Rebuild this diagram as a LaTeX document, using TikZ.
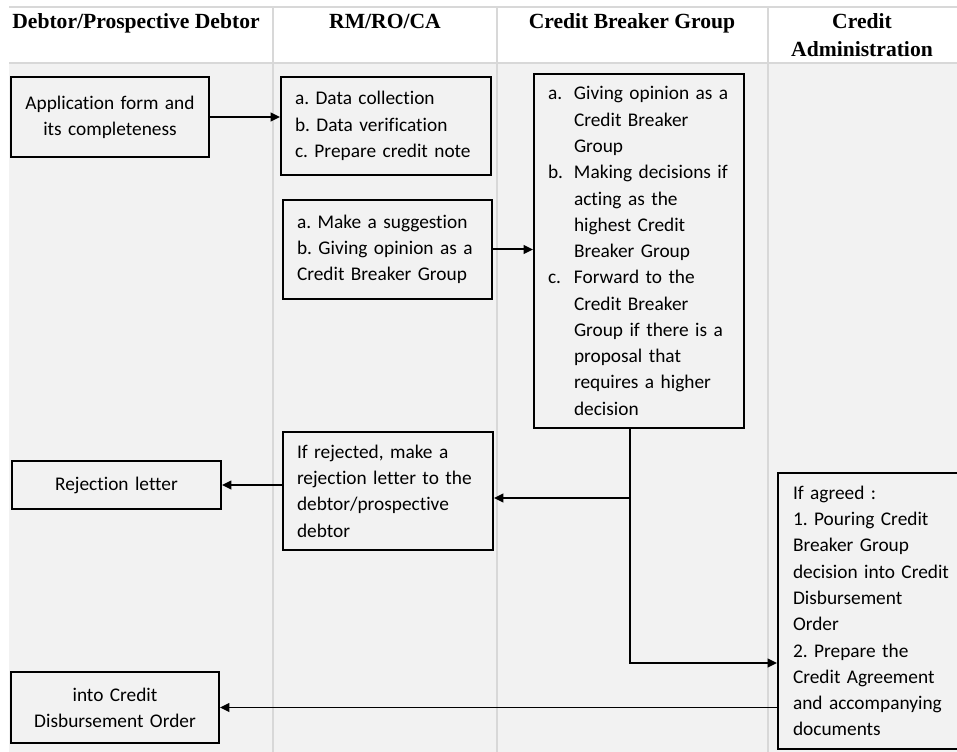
\documentclass[tikz,border=0pt]{standalone}
\usepackage{fontspec}
\setmainfont[Ligatures={NoCommon}]{Carlito}
\newfontfamily\lanehead{Liberation Serif}
\usetikzlibrary{arrows.meta}
\definecolor{lanefill}{HTML}{F2F2F2}
\definecolor{laneline}{HTML}{D8D8D8}
\newcommand\boxfont{\fontsize{14.5pt}{19.7pt}\selectfont\frenchspacing}
\newcommand\headfont{\lanehead\bfseries\fontsize{16.2pt}{21pt}\selectfont}
\newcommand\itm[1]{\makebox[19.5pt][l]{#1}}
\newcommand\ind{\hspace*{19.5pt}}
\begin{document}
\frenchspacing
\begin{tikzpicture}[x=0.75pt,y=-0.75pt,
  box/.style={draw=black,line width=1.5pt,fill=lanefill,inner ysep=0pt,font=\boxfont},
  leftbox/.style={box,align=left,inner xsep=10.5pt},
  midbox/.style={box,align=center,inner xsep=6pt},
  head/.style={anchor=base,font=\headfont,inner sep=0pt},
  flow/.style={line width=1.5pt,-{Triangle[length=7pt,width=6.5pt]}},
  thinflow/.style={line width=1.1pt,-{Triangle[length=7pt,width=6.5pt]}}]
\useasboundingbox (0,0) rectangle (957,752);

% swimlane table
\fill[white] (0,0) rectangle (957,752);
\fill[lanefill] (9,63) rectangle (957,752);
\draw[laneline,line width=0.8pt] (9,7) -- (957,7) (9,63) -- (957,63);
\foreach \xl in {273,497,768}
  \draw[laneline,line width=0.8pt] (\xl,7) -- (\xl,752);

% lane titles
\node[head] (h1) at (136,29) {Debtor/Prospective Debtor};
\node[head] (h2) at (385,29) {RM/RO/CA};
\node[head] (h3) at (632,29) {Credit Breaker Group};
\node[head] (h4) at (862,29) {Credit};
\node[head] (h5) at (862,57) {Administration};

% process boxes
\node[midbox,text width=136.5pt,minimum height=60pt] (app) at (110,117)
  {Application form and\\its completeness};
\node[leftbox,text width=136.5pt,minimum height=73.5pt] (dc) at (386,126)
  {a. Data collection\\b. Data verification\\c. Prepare credit note};
\node[leftbox,text width=135.75pt,minimum height=74.25pt] (sug) at (387.5,249.5)
  {a. Make a suggestion\\b. Giving opinion as a\\Credit Breaker Group};
\node[leftbox,text width=136.5pt,minimum height=265.5pt] (cbg) at (639,251)
  {\itm{a.}Giving opinion as a\\\ind Credit Breaker\\\ind Group\\
   \itm{b.}Making decisions if\\\ind acting as the\\\ind highest Credit\\\ind Breaker Group\\
   \itm{c.}Forward to the\\\ind Credit Breaker\\\ind Group if there is a\\\ind proposal that\\
   \ind requires a higher\\\ind decision};
\node[leftbox,text width=136.5pt,minimum height=88.5pt] (rejm) at (388,491)
  {If rejected, make a\\rejection letter to the\\debtor/prospective\\debtor};
\node[midbox,text width=144.75pt,minimum height=36pt] (rejl) at (116.5,485)
  {Rejection letter};
\node[midbox,text width=144pt,minimum height=53.25pt] (cdo) at (115,707.5)
  {into Credit\\Disbursement Order};
% this box runs past the right edge of the lane
\node[box,align=left,inner xsep=11.25pt,text width=150pt,minimum height=207pt] (agr) at (893,611)
  {If agreed :\\1. Pouring Credit\\Breaker Group\\decision into Credit\\Disbursement\\Order\\
   2. Prepare the\\Credit Agreement\\and accompanying\\documents};

% junctions below the Credit Breaker Group box
\coordinate (j1) at (630,498);
\coordinate (j2) at (630,663);

% connectors
\draw[flow] (app.east) -- (app.east -| dc.west);
\draw[flow] (sug.east) -- (sug.east -| cbg.west);
\draw[line width=1.5pt] (cbg.south -| j1) -- (j1);
\draw[flow] (j1) -- (j2) -- (j2 -| agr.west);
\draw[flow] (j1) -- (j1 -| rejm.east);
\draw[thinflow] (rejl.east -| rejm.west) -- (rejl.east);
\draw[thinflow] (cdo.east -| agr.west) -- (cdo.east);
\end{tikzpicture}
\end{document}
